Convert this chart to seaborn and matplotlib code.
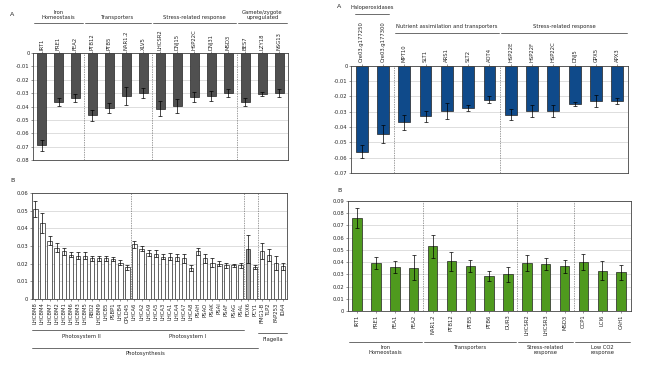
import numpy as np
import pandas as pd
import matplotlib
matplotlib.use('Agg')
import matplotlib.pyplot as plt
import matplotlib.transforms as mtransforms
import seaborn as sns

sns.set_style('white')
plt.rcParams['font.family'] = ['DejaVu Sans']

# ---- panel A (left): down-regulated, grey bars
a1_genes = ['IRT1', 'FRE1', 'FEA2', 'PTB12', 'PTB5', 'NAR1.2', 'XLV5',
            'LHCSR2', 'DNJ15', 'HSP22C', 'DNJ31', 'MSD3', 'BES7', 'LZY18', 'NSG13']
a1_vals = [-0.069, -0.0365, -0.0335, -0.0465, -0.041, -0.032, -0.030,
           -0.0415, -0.0395, -0.033, -0.032, -0.030, -0.0365, -0.0305, -0.030]
a1_err = [0.004, 0.003, 0.003, 0.004, 0.0035, 0.0065, 0.0035,
          0.0055, 0.0055, 0.0035, 0.0035, 0.003, 0.003, 0.0017, 0.003]
a1_groups = [('Iron\nHomeostasis', 0, 2), ('Transporters', 3, 6),
             ('Stress-related response', 7, 11), ('Gamete/zygote\nupregulated', 12, 14)]

# ---- panel A (right): down-regulated, blue bars
a2_genes = ['Cre03.g177250', 'Cre03.g177300', 'MPT10', 'SLT1', 'ARS1', 'SLT2', 'AOT4',
            'HSP22E', 'HSP22F', 'HSP22C', 'DNJ5', 'GPX5', 'APX3']
a2_vals = [-0.056, -0.0445, -0.037, -0.033, -0.0295, -0.0275, -0.022,
           -0.032, -0.0295, -0.0295, -0.025, -0.023, -0.023]
a2_err = [0.0045, 0.006, 0.005, 0.0035, 0.0055, 0.002, 0.0025,
          0.0035, 0.004, 0.004, 0.0015, 0.004, 0.002]

# ---- panel B (left): up-regulated, white bars
b1_genes = ['LHCBM8', 'LHCBM4', 'LHCBM7', 'LHCBM2', 'LHCBM1', 'LHCBM6', 'LHCBM3',
            'LHCBM5', 'RBD2', 'LHCBM9', 'LHCB5', 'PSBP1', 'LHCB4', 'CPLD45',
            'LHCA6', 'LHCA2', 'LHCA9', 'LHCA5', 'LHCA3', 'LHCA1', 'LHCA4', 'LHCA7', 'LHCA8',
            'PSAH', 'PSAO', 'PSAK', 'PSAI', 'PSAF', 'PSAG', 'PSAL',
            'FDX6', 'PCY1', 'FMG1-B', 'TLP2', 'FAP253', 'IDA4']
b1_vals = [0.051, 0.043, 0.033, 0.029, 0.027, 0.025, 0.0245, 0.0245, 0.023, 0.023,
           0.023, 0.0225, 0.0205, 0.018,
           0.031, 0.0285, 0.026, 0.0255, 0.024, 0.024, 0.0235, 0.023, 0.0175,
           0.027, 0.023, 0.0205, 0.020, 0.019, 0.019, 0.019,
           0.0285, 0.018, 0.027, 0.025, 0.0205, 0.0185]
b1_err = [0.0045, 0.0055, 0.0025, 0.0025, 0.002, 0.0015, 0.002, 0.002, 0.0015, 0.0015,
          0.0015, 0.001, 0.0015, 0.0015,
          0.002, 0.0015, 0.0015, 0.002, 0.0015, 0.002, 0.002, 0.0025, 0.0015,
          0.002, 0.0025, 0.0025, 0.0015, 0.0015, 0.001, 0.0015,
          0.008, 0.001, 0.0045, 0.0035, 0.004, 0.002]

# ---- panel B (right): up-regulated, green bars
b2_genes = ['IRT1', 'FRE1', 'FEA1', 'FEA2', 'NAR1.2', 'PTB12', 'PTB5', 'PTB6', 'DUR3',
            'LHCSR2', 'LHCSR3', 'MSD3', 'CCP1', 'LCI6', 'CAH1']
b2_vals = [0.076, 0.039, 0.036, 0.0355, 0.053, 0.0405, 0.037, 0.0285, 0.030,
           0.039, 0.0385, 0.0365, 0.040, 0.033, 0.0315]
b2_err = [0.0085, 0.005, 0.005, 0.01, 0.0095, 0.008, 0.005, 0.004, 0.006,
          0.0065, 0.005, 0.0055, 0.0065, 0.0075, 0.006]
b2_groups = [('Iron\nHomeostasis', 0, 3), ('Transporters', 4, 8),
             ('Stress-related\nresponse', 9, 11), ('Low CO2\nresponse', 12, 14)]

FS = 3.8
LINE_C = '#555555'


def draw_bars(ax, genes, vals, errs, color, width, top=False):
    df = pd.DataFrame({'gene': genes, 'value': vals})
    sns.barplot(data=df, x='gene', y='value', color=color, edgecolor='#222222',
                linewidth=0.5, width=width, errorbar=None, ax=ax, saturation=1)
    ax.errorbar(np.arange(len(genes)), vals, yerr=errs, fmt='none',
                ecolor='black', elinewidth=0.5, capsize=1.6, capthick=0.5)
    ax.set_xlabel('')
    ax.set_ylabel('')
    ax.set_xlim(-0.5, len(genes) - 0.5)
    ax.yaxis.grid(True, color='#d0d0d0', linewidth=0.5)
    ax.set_axisbelow(True)
    for s in ax.spines.values():
        s.set_color('#444444')
        s.set_linewidth(0.6)
    ax.tick_params(axis='both', labelsize=FS, length=1.5, width=0.4, pad=1,
                   color='#444444', left=True, bottom=not top, top=top)
    if top:
        ax.xaxis.tick_top()
    ax.tick_params(axis='x', labelrotation=90)


def separators(ax, bounds):
    for b in bounds:
        ax.axvline(b - 0.5, color='#777777', linestyle=(0, (2, 1.5)), linewidth=0.5)


def group(ax, label, i0, i1, y_line, y_text, pad=0.45, va='center'):
    tr = mtransforms.blended_transform_factory(ax.transData, ax.transAxes)
    ax.plot([i0 - pad, i1 + pad], [y_line, y_line], color=LINE_C, linewidth=0.6,
            transform=tr, clip_on=False)
    ax.text((i0 + i1) / 2, y_text, label, transform=tr, ha='center', va=va,
            fontsize=FS, linespacing=1.0)


fig = plt.figure(figsize=(6.5, 3.68), dpi=100)

# panel A left
ax1 = fig.add_axes([0.0508, 0.565, 0.392, 0.291])
draw_bars(ax1, a1_genes, a1_vals, a1_err, '#505050', 0.55, top=True)
ax1.set_ylim(-0.08, 0)
ax1.set_yticks(np.arange(-0.08, 0.001, 0.01))
ax1.set_yticklabels(['-0.08', '-0.07', '-0.06', '-0.05', '-0.04', '-0.03', '-0.02', '-0.01', '0'])
separators(ax1, [3, 7, 12])
for lab, i0, i1 in a1_groups:
    group(ax1, lab, i0, i1, 1.28, 1.31, va='bottom')
fig.text(10 / 650, 1 - 15 / 368, 'A', fontsize=4.5, va='center')

# panel A right
ax2 = fig.add_axes([0.540, 0.530, 0.426, 0.291])
draw_bars(ax2, a2_genes, a2_vals, a2_err, '#0f4a8a', 0.55, top=True)
ax2.set_ylim(-0.07, 0)
ax2.set_yticks(np.arange(-0.07, 0.001, 0.01))
ax2.set_yticklabels(['-0.07', '-0.06', '-0.05', '-0.04', '-0.03', '-0.02', '-0.01', '0'])
separators(ax2, [2, 7])
group(ax2, 'Haloperoxidases', 0, 1, 1.486, 1.52, pad=0.3, va='bottom')
group(ax2, 'Nutrient assimilation and transporters', 2, 6, 1.308, 1.34, va='bottom')
group(ax2, 'Stress-related response', 7, 12, 1.308, 1.34, va='bottom')
fig.text(337 / 650, 1 - 6 / 368, 'A', fontsize=4.5, va='center')

# panel B left
ax3 = fig.add_axes([0.049, 0.1875, 0.392, 0.288])
draw_bars(ax3, b1_genes, b1_vals, b1_err, 'white', 0.62)
ax3.patches[30].set_facecolor('#a8a8a8')
ax3.set_ylim(0, 0.06)
ax3.set_yticks(np.arange(0, 0.061, 0.01))
ax3.set_yticklabels(['0', '0.01', '0.02', '0.03', '0.04', '0.05', '0.06'])
separators(ax3, [14, 30, 32])
group(ax3, 'Photosystem II', 0, 13, -0.292, -0.33, pad=0.5, va='top')
group(ax3, 'Photosystem I', 14, 29, -0.292, -0.33, pad=0.5, va='top')
group(ax3, 'Flagella', 32, 35, -0.32, -0.355, pad=0.5, va='top')
group(ax3, 'Photosynthesis', 0, 31, -0.462, -0.49, pad=0.5, va='top')
fig.text(10 / 650, 1 - 181 / 368, 'B', fontsize=4.5, va='center')

# panel B right
ax4 = fig.add_axes([0.535, 0.155, 0.435, 0.299])
draw_bars(ax4, b2_genes, b2_vals, b2_err, '#4f9a1e', 0.5)
ax4.set_ylim(0, 0.09)
ax4.set_yticks(np.arange(0, 0.091, 0.01))
ax4.set_yticklabels(['0', '0.01', '0.02', '0.03', '0.04', '0.05', '0.06', '0.07', '0.08', '0.09'])
separators(ax4, [4, 9, 12])
for lab, i0, i1 in b2_groups:
    group(ax4, lab, i0, i1, -0.282, -0.31, va='top')
fig.text(337 / 650, 1 - 190 / 368, 'B', fontsize=4.5, va='center')

fig.savefig('out.png', dpi=100, facecolor='white')
